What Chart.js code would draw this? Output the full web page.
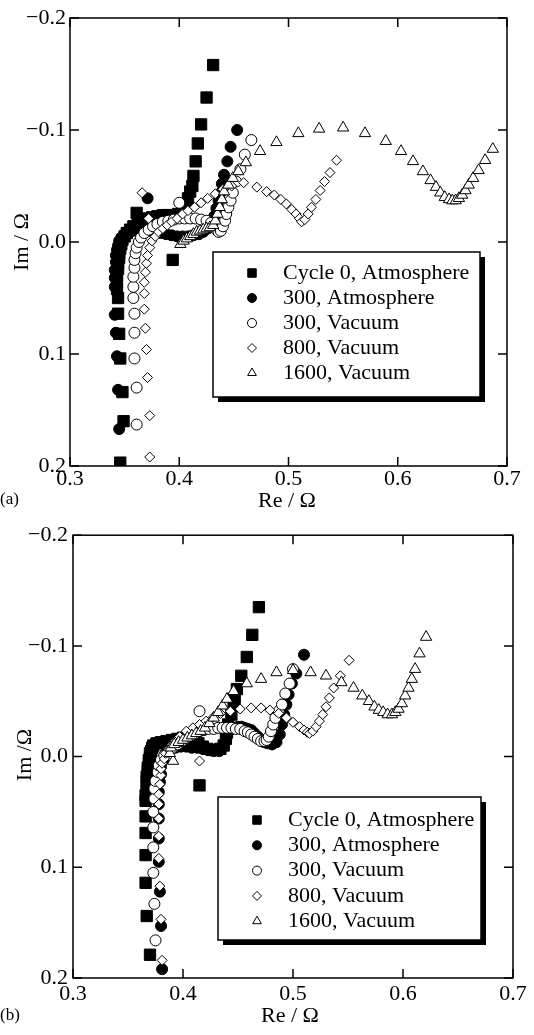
<!DOCTYPE html>
<html>
<head>
<meta charset="utf-8">
<script src="https://cdn.jsdelivr.net/npm/chart.js@4.4.1/dist/chart.umd.min.js"></script>
<style>
  html, body { margin: 0; padding: 0; background: #fff; }
  body { width: 534px; height: 1035px; position: relative; overflow: hidden; }
  .panel { position: absolute; left: 0; width: 534px; }
</style>
</head>
<body>
<div class="panel" style="top:0;height:517px"><canvas id="chart-a" width="534" height="517"></canvas></div>
<div class="panel" style="top:517px;height:518px"><canvas id="chart-b" width="534" height="518"></canvas></div>
<script>
const seriesLabels = ['Cycle 0, Atmosphere', '300, Atmosphere', '300, Vacuum', '800, Vacuum', '1600, Vacuum'];
const xTicks = [0.3, 0.4, 0.5, 0.6, 0.7];
const yTicks = [-0.2, -0.1, 0.0, 0.1, 0.2];

// panel (a), [Re, Im] in ohm
const aCycle0Atm = [
  [0.346,0.197],[0.349,0.160],[0.348,0.134],[0.346,0.104],[0.345,0.082],[0.344,0.064],[0.344,0.050],
  [0.343,0.042],[0.343,0.036],[0.343,0.030],[0.344,0.024],[0.344,0.019],[0.345,0.014],[0.345,0.010],
  [0.346,0.006],[0.347,0.002],[0.348,-0.002],[0.350,-0.005],[0.352,-0.008],[0.355,-0.011],[0.358,-0.014],
  [0.362,-0.017],[0.366,-0.019],[0.370,-0.021],[0.375,-0.022],[0.380,-0.023],[0.385,-0.024],[0.390,-0.024],
  [0.395,-0.024],[0.399,-0.025],[0.403,-0.028],[0.406,-0.033],[0.408,-0.039],[0.410,-0.045],[0.412,-0.050],
  [0.413,-0.059],[0.415,-0.072],[0.417,-0.088],[0.420,-0.105],[0.425,-0.129],[0.431,-0.158],
  [0.361,-0.026],[0.394,0.016]
];
const aCycle300Atm = [
  [0.345,0.167],[0.344,0.132],[0.343,0.102],[0.342,0.081],[0.341,0.065],[0.341,0.040],
  [0.341,0.032],[0.341,0.025],[0.342,0.018],[0.342,0.012],[0.343,0.007],[0.344,0.003],[0.345,-0.001],
  [0.347,-0.004],[0.350,-0.007],[0.354,-0.009],[0.358,-0.010],[0.363,-0.011],[0.368,-0.011],[0.373,-0.010],
  [0.378,-0.009],[0.383,-0.008],[0.388,-0.007],[0.393,-0.006],[0.398,-0.005],[0.403,-0.005],[0.408,-0.005],
  [0.413,-0.006],[0.418,-0.007],[0.422,-0.009],[0.426,-0.012],[0.429,-0.017],[0.432,-0.023],[0.434,-0.030],
  [0.436,-0.037],[0.438,-0.044],[0.439,-0.052],[0.441,-0.060],[0.444,-0.072],[0.447,-0.085],[0.453,-0.100],
  [0.371,-0.039]
];
const aCycle300Vac = [
  [0.361,0.163],[0.361,0.130],[0.359,0.104],[0.359,0.081],[0.359,0.064],[0.358,0.050],[0.358,0.040],
  [0.358,0.031],[0.359,0.023],[0.359,0.016],[0.360,0.010],[0.361,0.005],[0.363,0.000],[0.365,-0.004],
  [0.368,-0.008],[0.372,-0.011],[0.376,-0.014],[0.380,-0.016],[0.385,-0.018],[0.390,-0.019],[0.395,-0.020],
  [0.400,-0.021],[0.405,-0.021],[0.410,-0.021],[0.415,-0.021],[0.420,-0.020],[0.425,-0.019],[0.429,-0.017],
  [0.432,-0.014],[0.434,-0.011],[0.436,-0.009],[0.438,-0.010],[0.440,-0.014],[0.442,-0.019],[0.443,-0.025],
  [0.445,-0.031],[0.447,-0.037],[0.449,-0.044],[0.452,-0.054],[0.456,-0.065],[0.460,-0.078],[0.466,-0.091],
  [0.400,-0.035]
];
const aCycle800Vac = [
  [0.373,0.192],[0.373,0.155],[0.371,0.121],[0.370,0.096],[0.369,0.077],[0.368,0.060],[0.368,0.046],
  [0.368,0.036],[0.369,0.027],[0.370,0.019],[0.371,0.012],[0.373,0.005],[0.375,-0.001],[0.378,-0.005],
  [0.381,-0.009],[0.385,-0.012],[0.389,-0.015],[0.393,-0.018],[0.398,-0.021],[0.403,-0.025],[0.408,-0.028],
  [0.414,-0.031],[0.420,-0.035],[0.426,-0.039],[0.433,-0.043],[0.440,-0.047],[0.448,-0.050],[0.459,-0.053],
  [0.471,-0.049],[0.480,-0.045],[0.487,-0.042],[0.493,-0.038],[0.498,-0.034],[0.503,-0.029],[0.507,-0.025],
  [0.510,-0.021],[0.512,-0.018],[0.515,-0.020],[0.518,-0.025],[0.521,-0.031],[0.525,-0.038],[0.529,-0.046],
  [0.533,-0.054],[0.538,-0.062],[0.544,-0.073],
  [0.366,-0.044],[0.372,-0.021]
];
const aCycle1600Vac = [
  [0.401,0.002],[0.404,-0.001],[0.407,-0.003],[0.410,-0.005],[0.413,-0.007],[0.416,-0.009],[0.419,-0.010],
  [0.422,-0.011],[0.425,-0.012],[0.428,-0.013],[0.431,-0.015],[0.433,-0.019],[0.435,-0.025],[0.437,-0.031],
  [0.439,-0.038],[0.441,-0.045],[0.445,-0.051],[0.449,-0.057],[0.454,-0.063],[0.461,-0.071],[0.474,-0.081],
  [0.489,-0.089],[0.509,-0.097],[0.528,-0.101],[0.550,-0.102],[0.570,-0.097],[0.589,-0.090],[0.603,-0.081],
  [0.614,-0.072],[0.623,-0.063],[0.630,-0.055],[0.635,-0.049],[0.639,-0.044],[0.643,-0.040],[0.647,-0.038],
  [0.650,-0.037],[0.653,-0.037],[0.656,-0.039],[0.659,-0.042],[0.662,-0.046],[0.665,-0.051],[0.669,-0.057],
  [0.674,-0.064],[0.680,-0.073],[0.687,-0.083]
];

// panel (b)
const bCycle0Atm = [
  [0.370,0.179],[0.367,0.144],[0.366,0.114],[0.366,0.089],[0.366,0.069],[0.366,0.054],[0.366,0.040],
  [0.366,0.035],[0.367,0.031],[0.367,0.027],[0.367,0.022],[0.367,0.018],[0.368,0.013],[0.368,0.010],
  [0.369,0.006],[0.369,0.003],[0.370,0.000],[0.370,-0.003],[0.371,-0.005],[0.372,-0.008],[0.373,-0.010],
  [0.376,-0.012],[0.380,-0.013],[0.385,-0.014],[0.390,-0.015],[0.395,-0.016],[0.400,-0.017],[0.405,-0.018],
  [0.410,-0.016],[0.414,-0.012],[0.418,-0.009],[0.422,-0.007],[0.426,-0.006],[0.430,-0.006],[0.434,-0.007],
  [0.437,-0.010],[0.439,-0.016],[0.440,-0.022],[0.441,-0.029],[0.444,-0.038],[0.446,-0.046],[0.447,-0.053],
  [0.449,-0.061],[0.453,-0.073],[0.458,-0.090],[0.463,-0.110],[0.469,-0.135],
  [0.415,0.026]
];
const bCycle300Atm = [
  [0.381,0.192],[0.380,0.153],[0.379,0.122],[0.378,0.095],[0.378,0.074],[0.378,0.056],[0.378,0.043],
  [0.378,0.032],[0.379,0.023],[0.380,0.016],[0.380,0.009],[0.382,0.003],[0.384,-0.003],[0.388,-0.007],
  [0.393,-0.008],[0.398,-0.009],[0.403,-0.009],[0.408,-0.008],[0.413,-0.008],[0.418,-0.007],[0.423,-0.006],
  [0.428,-0.005],[0.433,-0.005],[0.437,-0.010],[0.440,-0.018],[0.443,-0.024],[0.447,-0.026],[0.450,-0.027],
  [0.453,-0.027],[0.456,-0.026],[0.459,-0.025],[0.462,-0.024],[0.465,-0.021],[0.468,-0.018],[0.471,-0.015],
  [0.474,-0.013],[0.477,-0.012],[0.481,-0.011],[0.485,-0.013],[0.488,-0.020],[0.490,-0.029],[0.492,-0.038],
  [0.494,-0.047],[0.496,-0.056],[0.499,-0.066],[0.503,-0.075],[0.510,-0.092]
];
const bCycle300Vac = [
  [0.375,0.166],[0.374,0.133],[0.373,0.105],[0.373,0.082],[0.373,0.064],[0.373,0.050],[0.374,0.038],
  [0.374,0.029],[0.375,0.022],[0.377,0.014],[0.378,0.008],[0.380,0.003],[0.383,-0.001],[0.387,-0.005],
  [0.391,-0.008],[0.395,-0.011],[0.399,-0.014],[0.403,-0.017],[0.407,-0.019],[0.411,-0.021],[0.415,-0.023],
  [0.419,-0.024],[0.423,-0.025],[0.428,-0.025],[0.432,-0.026],[0.436,-0.026],[0.440,-0.026],[0.444,-0.026],
  [0.448,-0.025],[0.452,-0.025],[0.456,-0.023],[0.459,-0.022],[0.462,-0.020],[0.465,-0.018],[0.468,-0.016],
  [0.471,-0.014],[0.474,-0.014],[0.476,-0.015],[0.478,-0.018],[0.480,-0.023],[0.482,-0.029],[0.484,-0.035],
  [0.487,-0.041],[0.490,-0.047],[0.493,-0.057],[0.497,-0.066],[0.500,-0.079],
  [0.415,-0.041]
];
const bCycle800Vac = [
  [0.381,0.184],[0.380,0.147],[0.379,0.117],[0.378,0.092],[0.378,0.072],[0.378,0.056],[0.378,0.043],
  [0.378,0.034],[0.379,0.025],[0.380,0.017],[0.380,0.011],[0.381,0.006],[0.383,0.002],[0.384,-0.003],
  [0.387,-0.006],[0.390,-0.011],[0.393,-0.014],[0.397,-0.018],[0.403,-0.023],[0.409,-0.026],[0.415,-0.029],
  [0.421,-0.032],[0.428,-0.036],[0.434,-0.039],[0.443,-0.041],[0.452,-0.043],[0.462,-0.044],[0.471,-0.044],
  [0.479,-0.042],[0.487,-0.039],[0.494,-0.035],[0.500,-0.031],[0.506,-0.027],[0.510,-0.024],[0.513,-0.022],
  [0.515,-0.021],[0.518,-0.023],[0.521,-0.027],[0.524,-0.032],[0.527,-0.038],[0.530,-0.045],[0.533,-0.053],
  [0.537,-0.062],[0.543,-0.073],[0.551,-0.087],
  [0.415,0.004]
];
const bCycle1600Vac = [
  [0.391,0.004],[0.388,-0.003],[0.389,-0.008],[0.392,-0.011],[0.396,-0.013],[0.400,-0.015],[0.404,-0.017],
  [0.408,-0.019],[0.412,-0.021],[0.416,-0.023],[0.420,-0.026],[0.424,-0.030],[0.428,-0.035],[0.432,-0.040],
  [0.436,-0.046],[0.440,-0.052],[0.446,-0.059],[0.458,-0.066],[0.471,-0.070],[0.485,-0.076],[0.500,-0.078],
  [0.516,-0.076],[0.530,-0.073],[0.544,-0.067],[0.555,-0.062],[0.563,-0.055],[0.569,-0.050],[0.574,-0.045],
  [0.578,-0.042],[0.582,-0.040],[0.586,-0.038],[0.590,-0.038],[0.593,-0.040],[0.596,-0.043],[0.599,-0.048],
  [0.602,-0.055],[0.605,-0.062],[0.608,-0.070],[0.611,-0.079],[0.615,-0.093],[0.621,-0.108]
];

const markers = [
  { pointStyle: 'rect', radius: 8, fill: '#000', legendRadius: 6 },
  { pointStyle: 'circle', radius: 5.5, fill: '#000', legendRadius: 4.5 },
  { pointStyle: 'circle', radius: 5.5, fill: '#fff', legendRadius: 4.5 },
  { pointStyle: 'rectRot', radius: 5, fill: '#fff', legendRadius: 4.5 },
  { pointStyle: 'triangle', radius: 6.5, fill: '#fff', legendRadius: 5 },
];

const serif = '"Liberation Serif", "Times New Roman", serif';

// frame with inward ticks, boxed legend, axis titles and panel tag
const framePlugin = {
  id: 'frame',
  afterDraw(chart, args, opts) {
    const { ctx, chartArea: a, scales: { x, y } } = chart;
    ctx.save();
    ctx.strokeStyle = '#000';
    ctx.lineWidth = 1.5;
    ctx.strokeRect(a.left, a.top, a.right - a.left, a.bottom - a.top);
    ctx.beginPath();
    x.ticks.forEach(t => {
      const px = x.getPixelForValue(t.value);
      ctx.moveTo(px, a.bottom); ctx.lineTo(px, a.bottom - 9);
      ctx.moveTo(px, a.top); ctx.lineTo(px, a.top + 9);
    });
    y.ticks.forEach(t => {
      const py = y.getPixelForValue(t.value);
      ctx.moveTo(a.left, py); ctx.lineTo(a.left + 9, py);
      ctx.moveTo(a.right, py); ctx.lineTo(a.right - 9, py);
    });
    ctx.stroke();

    // legend box with drop shadow
    const b = opts.box;
    ctx.fillStyle = '#000';
    ctx.fillRect(b.x + 5, b.y + 5, b.w, b.h);
    ctx.fillStyle = '#fff';
    ctx.fillRect(b.x, b.y, b.w, b.h);
    ctx.strokeRect(b.x, b.y, b.w, b.h);
    ctx.font = `22px ${serif}`;
    ctx.textBaseline = 'middle';
    ctx.textAlign = 'left';
    seriesLabels.forEach((label, i) => {
      const m = markers[i];
      const ry = b.y + opts.rowTop + i * opts.rowGap;
      ctx.fillStyle = m.fill;
      ctx.strokeStyle = '#000';
      ctx.lineWidth = 1;
      Chart.helpers.drawPoint(ctx, { pointStyle: m.pointStyle, radius: m.legendRadius, rotation: 0, borderWidth: 1 }, b.x + opts.markX, ry);
      ctx.fillStyle = '#000';
      ctx.fillText(label, b.x + opts.textX, ry);
    });

    // axis titles
    ctx.fillStyle = '#000';
    ctx.font = `22px ${serif}`;
    ctx.textAlign = 'center';
    ctx.fillText(opts.xTitle, opts.xTitlePos[0], opts.xTitlePos[1]);
    ctx.save();
    ctx.translate(opts.yTitlePos[0], opts.yTitlePos[1]);
    ctx.rotate(-Math.PI / 2);
    ctx.fillText(opts.yTitle, 0, 0);
    ctx.restore();
    ctx.textAlign = 'left';
    ctx.font = `17px ${serif}`;
    ctx.fillText(opts.tag, 0, opts.tagY);
    ctx.restore();
  }
};

function makePanel(canvasId, series, layout) {
  const datasets = series.map((pts, i) => ({
    label: seriesLabels[i],
    data: pts.map(([re, im]) => ({ x: re, y: im })),
    pointStyle: markers[i].pointStyle,
    pointRadius: markers[i].radius,
    pointHoverRadius: markers[i].radius,
    backgroundColor: markers[i].fill,
    borderColor: '#000',
    borderWidth: 1,
    order: series.length - i,
  }));
  const tickFont = { family: serif, size: 22 };
  const fmt = v => {
    if (Math.abs(v) < 1e-9) return '0.0';
    return v < 0 ? '\u2212' + Math.abs(v).toFixed(1) : Number(v).toFixed(1);
  };
  return new Chart(document.getElementById(canvasId), {
    type: 'scatter',
    data: { datasets },
    options: {
      responsive: false,
      animation: false,
      layout: { padding: layout.padding },
      plugins: {
        legend: { display: false },
        tooltip: { enabled: false },
        frame: layout,
      },
      scales: {
        x: {
          type: 'linear', min: xTicks[0], max: xTicks[xTicks.length - 1],
          afterBuildTicks: s => { s.ticks = xTicks.map(v => ({ value: v })); },
          ticks: { color: '#000', font: tickFont, padding: layout.xPad, maxRotation: 0, autoSkip: false, callback: fmt },
          grid: { display: false, drawTicks: false },
          border: { display: false },
          afterFit: s => { s.height = layout.xHeight; },
        },
        y: {
          type: 'linear', reverse: true, min: yTicks[0], max: yTicks[yTicks.length - 1],
          afterBuildTicks: s => { s.ticks = yTicks.map(v => ({ value: v })); },
          ticks: { color: '#000', font: tickFont, padding: layout.yPad, autoSkip: false, callback: fmt },
          grid: { display: false, drawTicks: false },
          border: { display: false },
          afterFit: s => { s.width = layout.yWidth; },
        },
      },
    },
    plugins: [framePlugin],
  });
}

makePanel('chart-a', [aCycle0Atm, aCycle300Atm, aCycle300Vac, aCycle800Vac, aCycle1600Vac], {
  padding: { top: 18, right: 27, left: 0, bottom: 0 },
  yWidth: 70, xHeight: 51, xPad: 0, yPad: 4,
  box: { x: 213, y: 252, w: 267, h: 145 },
  rowTop: 21, rowGap: 25, markX: 39, textX: 70,
  xTitle: 'Re / Ω', xTitlePos: [287, 501],
  yTitle: 'Im / Ω', yTitlePos: [22, 242],
  tag: '(a)', tagY: 500,
});

makePanel('chart-b', [bCycle0Atm, bCycle300Atm, bCycle300Vac, bCycle800Vac, bCycle1600Vac], {
  padding: { top: 13, right: 21, left: 0, bottom: 0 },
  yWidth: 73, xHeight: 57, xPad: 3, yPad: 5,
  box: { x: 218, y: 280, w: 263, h: 143 },
  rowTop: 23, rowGap: 25.3, markX: 39, textX: 70,
  xTitle: 'Re / Ω', xTitlePos: [290, 499],
  yTitle: 'Im /Ω', yTitlePos: [25, 238],
  tag: '(b)', tagY: 499,
});
</script>
</body>
</html>
